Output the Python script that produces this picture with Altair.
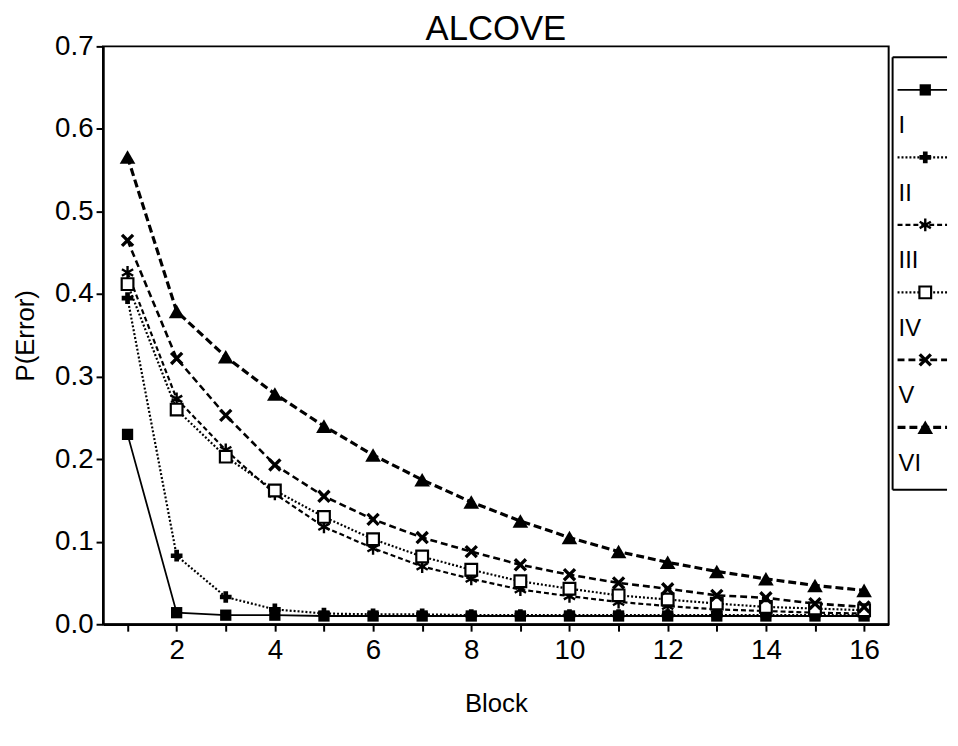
import altair as alt
import pandas as pd

# ---- data ----
title_text = ["ALCOVE"]
blocks = list(range(1, 17))
type_I = [0.230, 0.014, 0.011, 0.011, 0.010, 0.010, 0.010, 0.010, 0.010, 0.010, 0.010, 0.010, 0.010, 0.010, 0.010, 0.010]
type_II = [0.395, 0.083, 0.033, 0.018, 0.013, 0.012, 0.012, 0.011, 0.011, 0.011, 0.011, 0.011, 0.011, 0.011, 0.011, 0.011]
type_III = [0.426, 0.273, 0.211, 0.158, 0.118, 0.092, 0.070, 0.055, 0.042, 0.034, 0.027, 0.022, 0.018, 0.016, 0.014, 0.013]
type_IV = [0.412, 0.260, 0.203, 0.162, 0.130, 0.103, 0.082, 0.066, 0.052, 0.043, 0.035, 0.030, 0.025, 0.021, 0.019, 0.017]
type_V = [0.465, 0.322, 0.253, 0.193, 0.155, 0.127, 0.105, 0.088, 0.072, 0.060, 0.050, 0.043, 0.035, 0.032, 0.025, 0.021]
type_VI = [0.566, 0.379, 0.324, 0.279, 0.240, 0.205, 0.175, 0.148, 0.125, 0.105, 0.088, 0.075, 0.064, 0.055, 0.047, 0.041]

types = ["I", "II", "III", "IV", "V", "VI"]
series = [type_I, type_II, type_III, type_IV, type_V, type_VI]
y_ticks = [0.0, 0.1, 0.2, 0.3, 0.4, 0.5, 0.6, 0.7]

df = pd.DataFrame({
    "Block": blocks * len(types),
    "P": [v for s in series for v in s],
    "Type": [t for t in types for _ in blocks],
})
leg_df = pd.DataFrame({"Type": types})
title_df = pd.DataFrame({"t": title_text})

FONT = "Liberation Sans"
ASTER = "M0,-1L0,1M-0.87,-0.5L0.87,0.5M-0.87,0.5L0.87,-0.5"
XMARK = "M-1,-1L1,1M-1,1L1,-1"

styles = {
    "I":   dict(dash=None,   w=1.8, shape="square", kind="fill", size=130, sw=1),
    "II":  dict(dash=[2, 2], w=2.2, shape="cross", kind="fill", size=140, sw=1),
    "III": dict(dash=[5, 3], w=2.2, shape=ASTER, kind="stroke", size=170, sw=2.4),
    "IV":  dict(dash=[2, 2], w=2.2, shape="square", kind="open", size=140, sw=2.2),
    "V":   dict(dash=[7, 4], w=2.6, shape=XMARK, kind="stroke", size=125, sw=3.4),
    "VI":  dict(dash=[8, 4], w=3.2, shape="triangle-up", kind="fill", size=250, sw=1),
}

W, H = 794, 584
X = alt.X("Block:Q",
          scale=alt.Scale(domain=[0.5, 16.5], nice=False, zero=False),
          axis=alt.Axis(values=blocks, title="Block", titlePadding=26, labelPadding=6,
                        labelExpr="datum.value % 2 == 0 ? datum.label : ''"))
Y = alt.Y("P:Q",
          scale=alt.Scale(domain=[0, 0.7], nice=False),
          axis=alt.Axis(values=y_ticks, format=".1f", title="P(Error)", titlePadding=16, labelPadding=3))


def point_mark(st, **extra):
    common = dict(shape=st["shape"], size=st["size"], strokeWidth=st["sw"], opacity=1, **extra)
    if st["kind"] == "fill":
        return dict(filled=True, color="black", **common)
    if st["kind"] == "open":
        return dict(filled=True, fill="white", stroke="black", **common)
    return dict(filled=False, color="black", **common)


layers = []
for t in types:
    st = styles[t]
    base = alt.Chart(df).transform_filter(alt.datum.Type == t)
    lkw = dict(color="black", strokeWidth=st["w"])
    if st["dash"]:
        lkw["strokeDash"] = st["dash"]
    layers.append(base.mark_line(**lkw).encode(x=X, y=Y))
for t in types:
    st = styles[t]
    base = alt.Chart(df).transform_filter(alt.datum.Type == t)
    layers.append(base.mark_point(**point_mark(st)).encode(x=X, y=Y))

title_layer = alt.Chart(title_df).mark_text(
    font=FONT, fontSize=35, color="black", align="center", baseline="alphabetic"
).encode(text="t:N", x=alt.value(W / 2), y=alt.value(-6))
layers.append(title_layer)

main = alt.layer(*layers).properties(width=W, height=H)

# ---- legend panel ----
LW, T, LB = 55, 11, 437
LH = T + LB
LY = alt.Y("Type:N", sort=types,
           scale=alt.Scale(type="point", padding=0, range=[T + 48, T + LB - 48]), axis=None)
leg_layers = []
for t in types:
    st = styles[t]
    base = alt.Chart(leg_df).transform_filter(alt.datum.Type == t)
    rkw = dict(color="black", strokeWidth=st["w"], yOffset=-15)
    if st["dash"]:
        rkw["strokeDash"] = st["dash"]
    leg_layers.append(base.mark_rule(**rkw).encode(x=alt.value(5), x2=alt.value(LW), y=LY))
    leg_layers.append(base.mark_point(**point_mark(st, yOffset=-15)).encode(x=alt.value(33), y=LY))
leg_layers.append(
    alt.Chart(leg_df).mark_text(font=FONT, fontSize=24, align="left", baseline="middle",
                                color="black", yOffset=22)
    .encode(x=alt.value(6), y=LY, text="Type:N")
)
frame = alt.Chart(leg_df).transform_filter(alt.datum.Type == "I")
leg_layers.append(frame.mark_rule(color="black", strokeWidth=2)
                  .encode(x=alt.value(0), y=alt.value(T), y2=alt.value(LH)))
leg_layers.append(frame.mark_rule(color="black", strokeWidth=2)
                  .encode(x=alt.value(0), x2=alt.value(LW), y=alt.value(T)))
leg_layers.append(frame.mark_rule(color="black", strokeWidth=2)
                  .encode(x=alt.value(0), x2=alt.value(LW), y=alt.value(LH)))
legend = alt.layer(*leg_layers).properties(width=LW, height=LH, view=alt.ViewConfig(stroke="transparent"))

chart = alt.hconcat(main, legend, spacing=1).resolve_scale(y="independent").properties(
    padding={"left": 4, "top": 0, "right": 0, "bottom": 0}
).configure_axis(
    labelFont=FONT, labelFontSize=28, labelColor="black",
    titleFont=FONT, titleFontSize=26, titleFontWeight="normal", titleColor="black",
    domainColor="black", domainWidth=2.5, tickColor="black", tickWidth=2, tickSize=7,
    grid=False,
).configure_view(stroke="black", strokeWidth=2).configure_concat(spacing=1)

chart.save("out.html", embed_options={"renderer": "svg", "actions": False})
